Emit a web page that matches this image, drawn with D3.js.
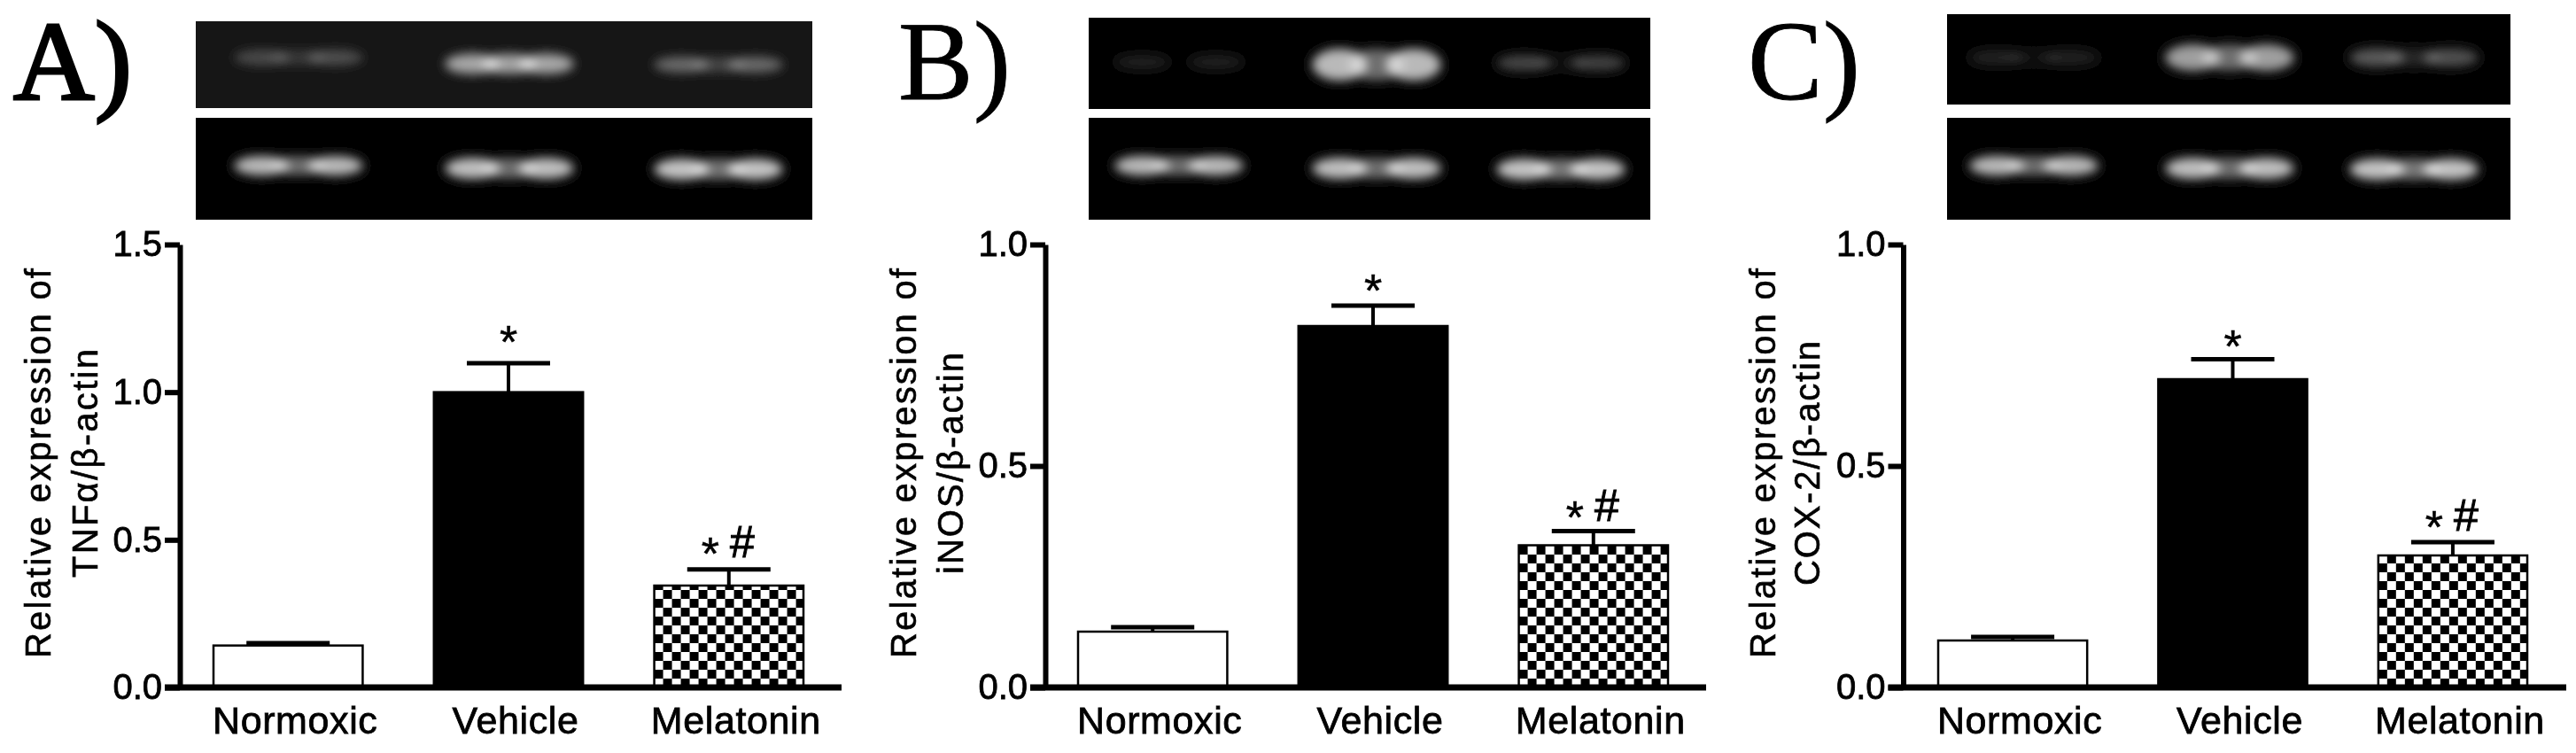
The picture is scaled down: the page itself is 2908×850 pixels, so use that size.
<!DOCTYPE html>
<html><head><meta charset="utf-8">
<style>html,body{margin:0;background:#fff}svg{display:block}</style>
<script src="https://cdn.jsdelivr.net/npm/d3@7/dist/d3.min.js"></script>
</head><body><svg id="c" width="2908" height="850"></svg>
<script>
// ---- data ----
const categories = ["Normoxic","Vehicle","Melatonin"];
const tnfValues = [0.142,1.0,0.345];
const tnfCaps   = [0.150,1.098,0.40];
const inosValues = [0.126,0.816,0.321];
const inosCaps   = [0.136,0.862,0.353];
const coxValues = [0.106,0.696,0.298];
const coxCaps   = [0.114,0.741,0.328];
const tnfTicks = [0,0.5,1.0,1.5];
const unitTicks = [0,0.5,1.0];
const marks = ["","*","*#"];
const yTitleLine1 = "Relative expression of";
const tnfTitle = "TNFα/β-actin";
const inosTitle = "iNOS/β-actin";
const coxTitle = "COX-2/β-actin";
// gel band intensities per lane: [left lobe, middle, right lobe]
const tnfGel  = [[.22,.14,.24],[.62,.6,.62],[.36,.2,.36]];
const inosGel = [[.12,0,.12],[.72,.42,.72],[.26,.06,.24]];
const coxGel  = [[.13,.06,.12],[.62,.42,.62],[.34,.14,.3]];
const actinGelA = [[.72,.42,.72],[.74,.42,.74],[.76,.44,.76]];
const actinGelB = [[.72,.42,.72],[.74,.42,.74],[.76,.46,.76]];
const actinGelC = [[.72,.42,.72],[.74,.42,.74],[.76,.46,.76]];

// ---- layout ----
const y0 = 776, yTop = 276;
const panels = [
 {letter:"A)",lx:15,ly:112,values:tnfValues,caps:tnfCaps,ticks:tnfTicks,max:1.5,title:tnfTitle,
  axisX:203,right:950,bars:[241,907],t1:43,t2:96,t2len:258,markDy:[0,-36,-30],
  blot:{x0:221,x1:917,top:[24,122],bot:[133,248],bg:"#161616",lanes:[337,575,811],topY:[65,72,73],topH:[12,17,12],botY:[187,190,191]},gel:tnfGel,actin:actinGelA},
 {letter:"B)",lx:1014,ly:112,values:inosValues,caps:inosCaps,ticks:unitTicks,max:1,title:inosTitle,
  axisX:1180,right:1926,bars:[1217,1883],t1:1020,t2:1073,t2len:250,markDy:[0,-29,-28],
  blot:{x0:1229,x1:1863,top:[20,123],bot:[133,248],bg:"#020202",lanes:[1331,1554,1762],topY:[70,73,71],topH:[10,30,13],botY:[187,190,191]},gel:inosGel,actin:actinGelB},
 {letter:"C)",lx:1973,ly:112,values:coxValues,caps:coxCaps,ticks:unitTicks,max:1,title:coxTitle,
  axisX:2148.5,right:2897,bars:[2188,2853],t1:1990,t2:2040,t2len:276,markDy:[0,-27,-29],
  blot:{x0:2198,x1:2834,top:[16,118],bot:[133,248],bg:"#030303",lanes:[2296,2517,2725],topY:[65,65,65],topH:[11,24,15],botY:[187,190,191]},gel:coxGel,actin:actinGelC}
];
const SANS = "'Liberation Sans',Arial,sans-serif", SERIF="'Liberation Serif','Times New Roman',serif";

const svg = d3.select("#c");
const defs = svg.append("defs");
defs.append("filter").attr("id","gelBlur").attr("x","-40%").attr("y","-80%").attr("width","180%").attr("height","260%")
  .append("feGaussianBlur").attr("stdDeviation",6);
defs.append("filter").attr("id","soft").attr("filterUnits","userSpaceOnUse").attr("x",0).attr("y",0).attr("width",2908).attr("height",850)
  .append("feGaussianBlur").attr("stdDeviation",0.55);
const root = svg.append("g").attr("filter","url(#soft)");
root.append("rect").attr("width",2908).attr("height",850).attr("fill","#fff");

function drawGel(g,id,x0,x1,yr,bg,lanes,ys,hs,levels){
  const clip = defs.append("clipPath").attr("id",id);
  clip.append("rect").attr("x",x0).attr("y",yr[0]).attr("width",x1-x0).attr("height",yr[1]-yr[0]);
  g.append("rect").attr("x",x0).attr("y",yr[0]).attr("width",x1-x0).attr("height",yr[1]-yr[0]).attr("fill",bg);
  const inner = g.append("g").attr("clip-path",`url(#${id})`).append("g").attr("filter","url(#gelBlur)");
  const bandW = 130;
  levels.forEach((lv,i)=>{
    const off = d3.scalePoint().domain([0,1,2]).range([lanes[i]-bandW*.32,lanes[i]+bandW*.32]);
    inner.selectAll(null).data(lv).join("ellipse")
      .attr("cx",(d,k)=>off(k)).attr("cy",ys[i]).attr("rx",bandW*.24).attr("ry",hs[i]/2+3)
      .attr("fill","#fff").attr("opacity",d=>d);
  });
}

panels.forEach((p,pi)=>{
  const g = root.append("g");
  // panel letter
  g.append("text").attr("x",p.lx).attr("y",p.ly).text(p.letter)
    .attr("font-family",SERIF).attr("font-size",127).attr("fill","#000").attr("stroke","#000").attr("stroke-width",pi==0?3:0.8);
  // gels
  const b = p.blot;
  drawGel(g,"gt"+pi,b.x0,b.x1,b.top,b.bg,b.lanes,b.topY,b.topH,p.gel);
  drawGel(g,"gb"+pi,b.x0,b.x1,b.bot,"#020202",b.lanes,b.botY,[16,18,18],p.actin);

  const x = d3.scaleBand().domain(categories).range(p.bars).paddingInner(.323).paddingOuter(0);
  const y = d3.scaleLinear().domain([0,p.max]).range([y0,yTop]);
  const bw = x.bandwidth();

  // checker pattern anchored on the bar
  const mx = x("Melatonin");
  const cell = 10;
  const pat = defs.append("pattern").attr("id","chk"+pi).attr("patternUnits","userSpaceOnUse")
    .attr("width",cell*2).attr("height",cell*2).attr("x",mx).attr("y",y0-cell*2);
  pat.append("rect").attr("width",cell*2).attr("height",cell*2).attr("fill","#fff");
  pat.append("rect").attr("width",cell).attr("height",cell).attr("fill","#000");
  pat.append("rect").attr("x",cell).attr("y",cell).attr("width",cell).attr("height",cell).attr("fill","#000");

  const fills = ["#fff","#000",`url(#chk${pi})`];
  // error bars
  const err = g.append("g").selectAll("g").data(categories).join("g");
  err.append("line").attr("x1",d=>x(d)+bw/2).attr("x2",d=>x(d)+bw/2)
    .attr("y1",(d,i)=>y(p.values[i])).attr("y2",(d,i)=>y(p.caps[i])).attr("stroke","#000").attr("stroke-width",4);
  err.append("line").attr("x1",d=>x(d)+bw/2-47).attr("x2",d=>x(d)+bw/2+47)
    .attr("y1",(d,i)=>y(p.caps[i])).attr("y2",(d,i)=>y(p.caps[i])).attr("stroke","#000").attr("stroke-width",5);
  // bars
  g.append("g").selectAll("rect").data(categories).join("rect")
    .attr("x",d=>x(d)).attr("width",bw)
    .attr("y",(d,i)=>y(p.values[i])).attr("height",(d,i)=>y0-y(p.values[i]))
    .attr("fill",(d,i)=>fills[i]).attr("stroke","#000").attr("stroke-width",2.5);

  // significance marks
  categories.forEach((c,i)=>{
    const cx = x(c)+bw/2, cy = y(p.caps[i])+p.markDy[i];
    if(marks[i]==="*"){
      g.append("text").attr("x",cx).attr("y",cy+30).attr("text-anchor","middle").text("*")
       .attr("font-family",SANS).attr("font-size",52).attr("stroke","#000").attr("stroke-width",.5);
    } else if(marks[i]==="*#"){
      g.append("text").attr("x",cx-21).attr("y",cy+30).attr("text-anchor","middle").text("*")
       .attr("font-family",SANS).attr("font-size",52).attr("stroke","#000").attr("stroke-width",.5);
      g.append("text").attr("x",cx+15).attr("y",cy+16).attr("text-anchor","middle").text("#")
       .attr("font-family",SANS).attr("font-size",50).attr("stroke","#000").attr("stroke-width",1);
    }
  });

  // y axis
  const ya = g.append("g").attr("transform",`translate(${p.axisX},0)`)
    .call(d3.axisLeft(y).tickValues(p.ticks).tickFormat(d3.format(".1f")).tickSize(17).tickSizeOuter(0).tickPadding(3));
  ya.select(".domain").attr("stroke","#000").attr("stroke-width",6);
  ya.selectAll(".tick line").attr("stroke","#000").attr("stroke-width",6);
  ya.selectAll(".tick text").attr("font-family",SANS).attr("font-size",40).attr("fill","#000").attr("stroke","#000").attr("stroke-width",.8);

  // x axis
  const xa = g.append("g").attr("transform",`translate(8,${y0})`)
    .call(d3.axisBottom(x).tickSize(0).tickPadding(21));
  xa.select(".domain").remove();
  xa.selectAll(".tick text").attr("font-family",SANS).attr("font-size",43).attr("letter-spacing",.6).attr("fill","#000").attr("stroke","#000").attr("stroke-width",.8);
  g.append("line").attr("x1",p.axisX-17).attr("x2",p.right).attr("y1",y0).attr("y2",y0).attr("stroke","#000").attr("stroke-width",7);

  // y titles
  const title = (tx,txt,len)=>g.append("text").attr("transform",`translate(${tx},523) rotate(-90)`)
    .attr("text-anchor","middle").attr("dy",".36em").attr("font-family",SANS).attr("font-size",40).attr("fill","#000")
    .attr("stroke","#000").attr("stroke-width",.6)
    .attr("textLength",len).attr("lengthAdjust","spacing").text(txt);
  title(p.t1,yTitleLine1,440);
  title(p.t2,p.title,p.t2len);
});
</script></body></html>
